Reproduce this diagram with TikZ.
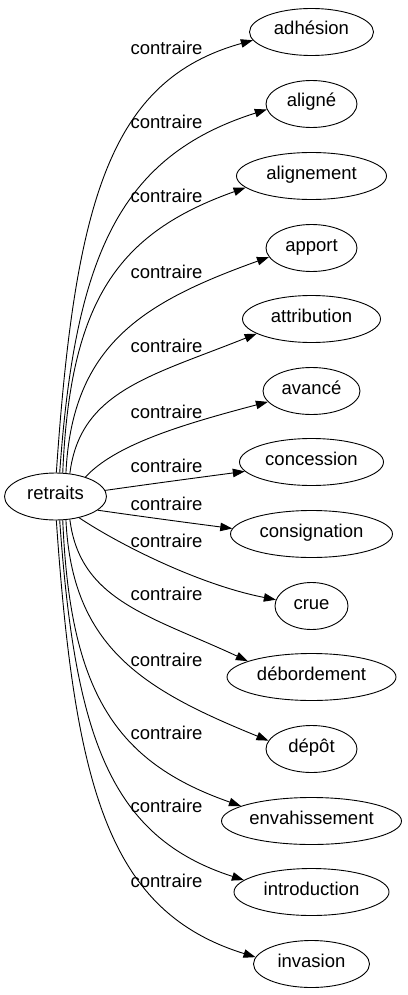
\documentclass[tikz,border=0pt]{standalone}
\usepackage{fontspec}
\setmainfont{Liberation Sans}
\usetikzlibrary{
  arrows.meta,      % Triangle 箭头
  shapes.geometric  % ellipse 节点
}

\begin{document}
\begin{tikzpicture}[x=1pt, y=-1pt, >={Triangle[length=12pt,width=8.5pt]},
    mot/.style={draw, ellipse, line width=0.9pt, inner sep=0pt,
      minimum height=47pt, text height=0.8em, text depth=0.2em,
      font=\fontsize{18.5}{22}\selectfont},
    lien/.style={->, line width=0.9pt},
    etiq/.style={anchor=base, font=\fontsize{18.5}{22}\selectfont}]
    \useasboundingbox (0,0) rectangle (407,995);

    % --- 中心词 ---
    \node[mot, minimum width=102pt] (retraits) at (55.5,496.5) {retraits};

    % --- 右侧一列：名称/文字/纵坐标/宽度 ---
    \foreach \nom/\texte/\y/\w in {adhesion/adhésion/32/124, aligne/aligné/104/91,
        alignement/alignement/176/150, apport/apport/248/91,
        attribution/attribution/319/138, avance/avancé/391/97,
        concession/concession/462/144, consignation/consignation/534/162,
        crue/crue/606/73, debordement/débordement/677/169, depot/dépôt/749/91,
        envahissement/envahissement/821/180, introduction/introduction/892/155,
        invasion/invasion/964/116}{
      \node[mot, minimum width=\w pt] (\nom) at (311.5,\y) {\texte};
    }

    % --- 连线：目标/起点角/控制点一/控制点二/终点角 ---
    \foreach \nom/\da/\ax/\ay/\bx/\by/\fa in {adhesion/88/75/200/110/80/188,
        aligne/80/75/255/120/156/187, alignement/73/70/300/118/233/190,
        apport/66/72/344/144/302/192, attribution/58/80/391/151/376/195,
        avance/33/115/445/180/425/194, concession/7/150/484/195/478/188,
        consignation/342/145/517/190/523/176, crue/318/120/545/200/585/170,
        debordement/302/80/601/151/616/166, depot/294/72/648/144/690/169,
        envahissement/287/70/692/115/762/168, introduction/280/75/737/110/837/170,
        invasion/272/75/792/110/912/173}{
      \draw[lien] (retraits.\da) .. controls (\ax,\ay) and (\bx,\by) .. (\nom.\fa);
    }

    % --- 边上的文字 ---
    \foreach \y [count=\i] in {55,129,203,278,352,418,472,510,547,600,666,739,812,887}{
      \node[etiq] (lab\i) at (166.5,\y) {contraire};
    }
\end{tikzpicture}
\end{document}
